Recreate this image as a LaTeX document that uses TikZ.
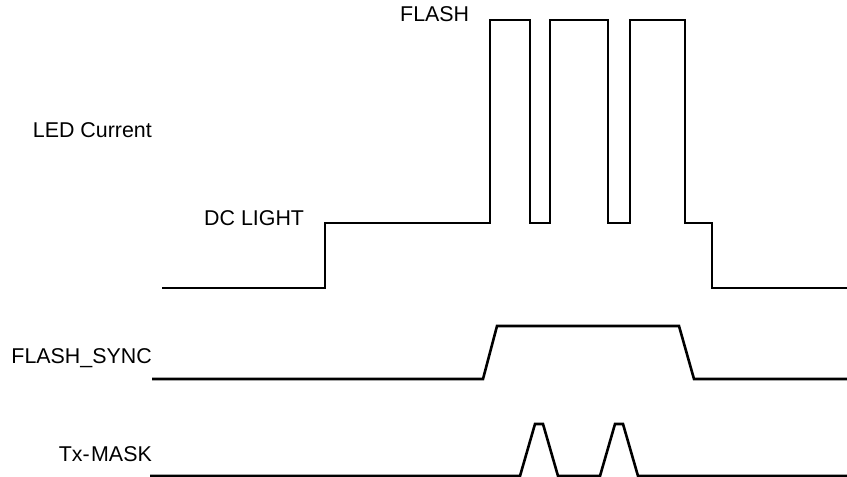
\documentclass[tikz,border=0pt]{standalone}
\usepackage{fontspec}
\setmainfont{Liberation Sans}
\begin{document}
\begin{tikzpicture}[x=1pt,y=-1pt,
  wave/.style={line width=2.6pt,line join=miter,black},
  lbl/.style={inner sep=0pt,font=\fontsize{21.4}{25}\selectfont}]
\useasboundingbox (0,0) rectangle (847,477);
% labels
\node[lbl,anchor=base east] (led) at (152,137) {LED Current};
\node[lbl,anchor=base west] (dc) at (204,225) {DC LIGHT};
\node[lbl,anchor=base west] (flash) at (400,21) {FLASH};
\node[lbl,anchor=base east] (sync) at (152,363) {FLASH\_SYNC};
\node[lbl,anchor=base east] (mask) at (152,461) {Tx-\kern1.5pt MASK};
% LED current
\draw[wave] (162,288) -- (325,288) -- (325,223) -- (490,223) -- (490,20) -- (530,20)
  -- (530,223) -- (550,223) -- (550,20) -- (608,20) -- (608,223) -- (630,223)
  -- (630,20) -- (685,20) -- (685,223) -- (712,223) -- (712,288) -- (847,288);
% FLASH_SYNC
\draw[wave] (152,379) -- (483,379) -- (497,326) -- (679,326) -- (694,379) -- (847,379);
% Tx-MASK
\draw[wave] (150,476) -- (520,476) -- (535,424) -- (543,424) -- (558,476) -- (600,476)
  -- (615,424) -- (623,424) -- (638,476) -- (847,476);
\end{tikzpicture}
\end{document}
